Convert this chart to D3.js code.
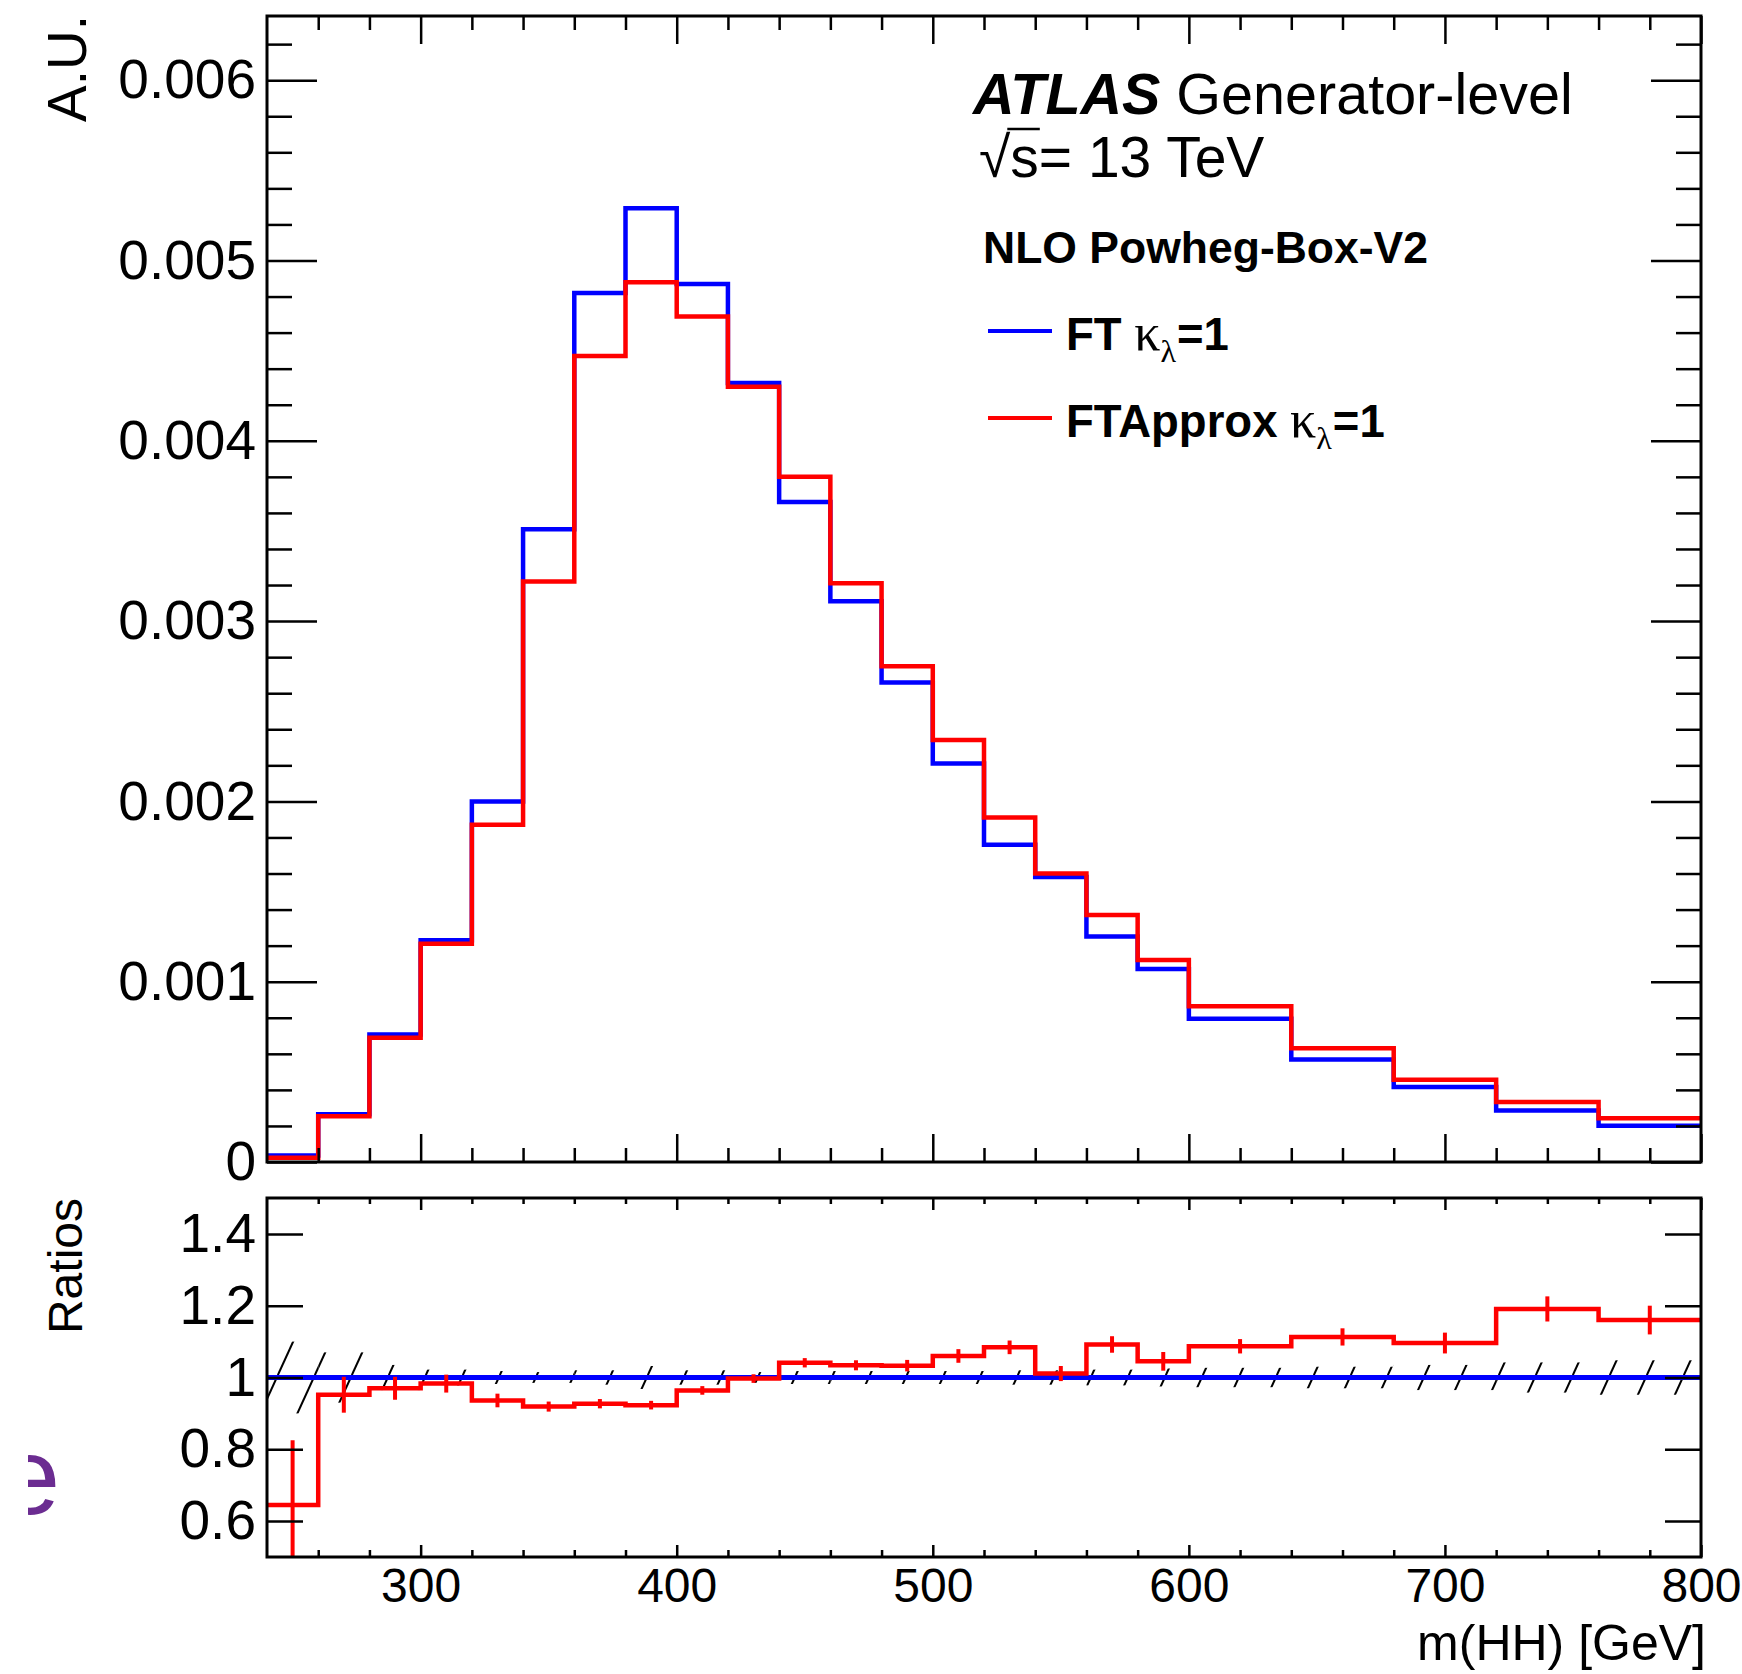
<!DOCTYPE html>
<html>
<head>
<meta charset="utf-8">
<script src="https://cdn.jsdelivr.net/npm/d3@7"></script>
<style>
  body { margin: 0; background: #fff; }
  svg { display: block; }
</style>
</head>
<body>
<div class="chart"></div>
<script>
const width = 1742
const height = 1674

// bin edges in m(HH) [GeV]
const binEdges = [240, 260, 280, 300, 320, 340, 360, 380, 400, 420, 440, 460, 480, 500,
                  520, 540, 560, 580, 600, 640, 680, 720, 760, 800]

// normalised distributions (A.U.)
const ftValues = [0.000036, 0.000265, 0.000707, 0.00123, 0.00200, 0.00351, 0.00482, 0.00529,
                  0.00487, 0.00432, 0.00366, 0.00311, 0.00266, 0.00221, 0.00176, 0.00158,
                  0.00125, 0.00107, 0.000795, 0.000569, 0.000416, 0.000285, 0.000201]
const ftApproxValues = [0.000023, 0.000254, 0.000689, 0.00121, 0.00187, 0.00322, 0.00447, 0.00488,
                        0.00469, 0.00430, 0.00380, 0.00321, 0.00275, 0.00234, 0.00191, 0.00160,
                        0.00137, 0.00112, 0.000864, 0.000631, 0.000456, 0.000333, 0.000242]

// ratio FTApprox / FT with its errors, and the FT uncertainty band (hatched)
const ratioValues = [0.645, 0.952, 0.970, 0.983, 0.936, 0.919, 0.927, 0.923, 0.964, 0.997, 1.041,
                     1.034, 1.033, 1.060, 1.084, 1.011, 1.092, 1.045, 1.087, 1.113, 1.096, 1.191, 1.160]
const ratioErrors = [0.18, 0.05, 0.032, 0.025, 0.019, 0.014, 0.013, 0.012, 0.012, 0.012, 0.013,
                     0.014, 0.016, 0.019, 0.019, 0.021, 0.023, 0.026, 0.020, 0.024, 0.029, 0.035, 0.040]
const ftBandErrors = [0.10, 0.07, 0.035, 0.022, 0.018, 0.015, 0.02, 0.032, 0.02, 0.015, 0.018,
                      0.018, 0.018, 0.018, 0.02, 0.02, 0.022, 0.025, 0.027, 0.03, 0.035, 0.042, 0.048]

// ticks
const xTicks = [300, 400, 500, 600, 700, 800]
const xTickLabels = ["300", "400", "500", "600", "700", "800"]
const yTicksTop = [0, 0.001, 0.002, 0.003, 0.004, 0.005, 0.006]
const yTickLabelsTop = ["0", "0.001", "0.002", "0.003", "0.004", "0.005", "0.006"]
const yTicksRatio = [0.6, 0.8, 1, 1.2, 1.4]
const yTickLabelsRatio = ["0.6", "0.8", "1", "1.2", "1.4"]

const FONT = "'Liberation Sans', Arial, Helvetica, sans-serif"
const SERIF = "'Liberation Serif', 'Times New Roman', serif"
const BLUE = "#0000ff"
const RED = "#ff0000"

const frame = { left: 267, right: 1701 }
const topPanel = { top: 16, bottom: 1162 }
const ratioPanel = { top: 1198, bottom: 1557 }

const svg = d3.select(".chart")
    .append("svg")
    .attr("width", width)
    .attr("height", height)
    .style("font-family", FONT)

const x = d3.scaleLinear().domain([240, 800]).range([frame.left, frame.right])
const y = d3.scaleLinear().domain([0, 0.006356]).range([topPanel.bottom, topPanel.top])
const yR = d3.scaleLinear().domain([0.5, 1.5]).range([ratioPanel.bottom, ratioPanel.top])

const bins = ftValues.map((v, i) => ({
    lo: binEdges[i], hi: binEdges[i + 1], ft: v, approx: ftApproxValues[i],
    ratio: ratioValues[i], rErr: ratioErrors[i], band: ftBandErrors[i], one: 1
}))

const steps = key => bins.flatMap(b => [[b.lo, b[key]], [b.hi, b[key]]])

// defs: clips + hatch
const defs = svg.append("defs")
defs.append("clipPath").attr("id", "clipTop")
    .append("rect")
    .attr("x", frame.left).attr("y", topPanel.top)
    .attr("width", frame.right - frame.left).attr("height", topPanel.bottom - topPanel.top)
defs.append("clipPath").attr("id", "clipRatio")
    .append("rect")
    .attr("x", frame.left).attr("y", ratioPanel.top)
    .attr("width", frame.right - frame.left).attr("height", ratioPanel.bottom - ratioPanel.top)
defs.append("clipPath").attr("id", "clipLogo")
    .append("rect").attr("x", 28).attr("y", 1400).attr("width", 100).attr("height", 160)

const hw = 37, hh = 81
const hatch = defs.append("pattern")
    .attr("id", "hatch")
    .attr("patternUnits", "userSpaceOnUse")
    .attr("x", frame.left + 10)
    .attr("width", hw).attr("height", hh)
hatch.append("line")
    .attr("x1", 0).attr("y1", hh).attr("x2", hw).attr("y2", 0)
    .attr("stroke", "#000").attr("stroke-width", 2)

// ---------- top panel ----------
const line = d3.line()
const gTop = svg.append("g").attr("clip-path", "url(#clipTop)")

gTop.append("path")
    .attr("d", line(steps("ft").map(d => [x(d[0]), y(d[1])])))
    .attr("fill", "none").attr("stroke", BLUE).attr("stroke-width", 4.5)

gTop.append("path")
    .attr("d", line(steps("approx").map(d => [x(d[0]), y(d[1])])))
    .attr("fill", "none").attr("stroke", RED).attr("stroke-width", 4.5)

// ---------- ratio panel ----------
const gR = svg.append("g").attr("clip-path", "url(#clipRatio)")

gR.selectAll("rect.band")
    .data(bins)
    .enter().append("rect")
        .attr("class", "band")
        .attr("x", d => x(d.lo))
        .attr("width", d => x(d.hi) - x(d.lo))
        .attr("y", d => yR(1 + d.band))
        .attr("height", d => yR(1 - d.band) - yR(1 + d.band))
        .attr("fill", "url(#hatch)")

gR.append("path")
    .attr("d", line(steps("one").map(d => [x(d[0]), yR(d[1])])))
    .attr("fill", "none").attr("stroke", BLUE).attr("stroke-width", 5)

gR.append("path")
    .attr("d", line(steps("ratio").map(d => [x(d[0]), yR(d[1])])))
    .attr("fill", "none").attr("stroke", RED).attr("stroke-width", 4.5)

gR.selectAll("line.err")
    .data(bins)
    .enter().append("line")
        .attr("class", "err")
        .attr("x1", d => x((d.lo + d.hi) / 2))
        .attr("x2", d => x((d.lo + d.hi) / 2))
        .attr("y1", d => yR(d.ratio - d.rErr))
        .attr("y2", d => yR(d.ratio + d.rErr))
        .attr("stroke", RED).attr("stroke-width", 4)

// ---------- axes ----------
function drawAxis(axis, tx, ty, fontSize) {
    const g = svg.append("g")
        .attr("transform", `translate(${tx}, ${ty})`)
        .call(axis)
    g.select(".domain").remove()
    g.attr("font-family", FONT).attr("font-size", fontSize || 10)
    g.selectAll(".tick line").attr("stroke", "#000").attr("stroke-width", 2.5)
    g.selectAll(".tick text").attr("fill", "#000")
    return g
}

const xMinor = d3.range(260, 800, 20).filter(v => v % 100 !== 0)
const yMinorTop = d3.range(0, 0.0064, 0.0002).filter(v => Math.abs(v * 1000 - Math.round(v * 1000)) > 1e-6)

// top panel y
drawAxis(d3.axisLeft(y).tickValues(yTicksTop).tickSizeInner(-50).tickSizeOuter(0).tickPadding(11)
    .tickFormat((d, i) => yTickLabelsTop[i]), frame.left, 0, 55)
drawAxis(d3.axisLeft(y).tickValues(yMinorTop).tickSizeInner(-25).tickSizeOuter(0).tickFormat(""),
    frame.left, 0)
drawAxis(d3.axisRight(y).tickValues(yTicksTop).tickSizeInner(-50).tickSizeOuter(0).tickFormat(""),
    frame.right, 0)
drawAxis(d3.axisRight(y).tickValues(yMinorTop).tickSizeInner(-25).tickSizeOuter(0).tickFormat(""),
    frame.right, 0)

// top panel x
drawAxis(d3.axisBottom(x).tickValues(xTicks).tickSizeInner(-28).tickSizeOuter(0).tickFormat(""),
    0, topPanel.bottom)
drawAxis(d3.axisBottom(x).tickValues(xMinor).tickSizeInner(-14).tickSizeOuter(0).tickFormat(""),
    0, topPanel.bottom)
drawAxis(d3.axisTop(x).tickValues(xTicks).tickSizeInner(-28).tickSizeOuter(0).tickFormat(""),
    0, topPanel.top)
drawAxis(d3.axisTop(x).tickValues(xMinor).tickSizeInner(-14).tickSizeOuter(0).tickFormat(""),
    0, topPanel.top)

// ratio panel y
drawAxis(d3.axisLeft(yR).tickValues(yTicksRatio).tickSizeInner(-36).tickSizeOuter(0).tickPadding(11)
    .tickFormat((d, i) => yTickLabelsRatio[i]), frame.left, 0, 55)
drawAxis(d3.axisRight(yR).tickValues(yTicksRatio).tickSizeInner(-36).tickSizeOuter(0).tickFormat(""),
    frame.right, 0)

// ratio panel x
drawAxis(d3.axisBottom(x).tickValues(xTicks).tickSizeInner(-12).tickSizeOuter(0).tickPadding(11)
    .tickFormat((d, i) => xTickLabels[i]), 0, ratioPanel.bottom, 48)
drawAxis(d3.axisBottom(x).tickValues(xMinor).tickSizeInner(-7).tickSizeOuter(0).tickFormat(""),
    0, ratioPanel.bottom)
drawAxis(d3.axisTop(x).tickValues(xTicks).tickSizeInner(-12).tickSizeOuter(0).tickFormat(""),
    0, ratioPanel.top)
drawAxis(d3.axisTop(x).tickValues(xMinor).tickSizeInner(-6).tickSizeOuter(0).tickFormat(""),
    0, ratioPanel.top)

// frames
svg.append("rect")
    .attr("x", frame.left).attr("y", topPanel.top)
    .attr("width", frame.right - frame.left).attr("height", topPanel.bottom - topPanel.top)
    .attr("fill", "none").attr("stroke", "#000").attr("stroke-width", 3)
svg.append("rect")
    .attr("x", frame.left).attr("y", ratioPanel.top)
    .attr("width", frame.right - frame.left).attr("height", ratioPanel.bottom - ratioPanel.top)
    .attr("fill", "none").attr("stroke", "#000").attr("stroke-width", 3)

// axis titles
svg.append("text")
    .attr("transform", "translate(86, 15) rotate(-90)")
    .attr("text-anchor", "end")
    .attr("font-size", 55)
    .text("A.U.")
svg.append("text")
    .attr("transform", `translate(82, ${ratioPanel.top}) rotate(-90)`)
    .attr("text-anchor", "end")
    .attr("font-size", 48)
    .text("Ratios")
svg.append("text")
    .attr("x", 1706).attr("y", 1660)
    .attr("text-anchor", "end")
    .attr("font-size", 50)
    .text("m(HH) [GeV]")

// ATLAS label
const atlas = svg.append("text").attr("x", 973).attr("y", 114).attr("font-size", 57.5)
atlas.append("tspan").attr("font-weight", "bold").attr("font-style", "italic").text("ATLAS")
atlas.append("tspan").text(" Generator-level")

const sqrtS = svg.append("text").attr("x", 979).attr("y", 177).attr("font-size", 57)
sqrtS.append("tspan").text("\u221A")
sqrtS.append("tspan").text("s= 13 TeV")
const radW = sqrtS.node().getSubStringLength(0, 1)
const sW = sqrtS.node().getSubStringLength(1, 1)
svg.append("line")
    .attr("x1", 979 + radW - 3).attr("x2", 979 + radW + sW + 1)
    .attr("y1", 129).attr("y2", 129)
    .attr("stroke", "#000").attr("stroke-width", 2.5)

svg.append("text")
    .attr("x", 983).attr("y", 263)
    .attr("font-size", 44.5).attr("font-weight", "bold")
    .text("NLO Powheg-Box-V2")

// legend
const legend = [
    { name: "FT ", color: BLUE, y: 331 },
    { name: "FTApprox ", color: RED, y: 418 }
]
legend.forEach(l => {
    svg.append("line")
        .attr("x1", 988).attr("x2", 1052)
        .attr("y1", l.y).attr("y2", l.y)
        .attr("stroke", l.color).attr("stroke-width", 4)
    const t = svg.append("text")
        .attr("x", 1066).attr("y", l.y + 19)
        .attr("font-size", 45.5).attr("font-weight", "bold")
    t.append("tspan").text(l.name)
    t.append("tspan").attr("font-family", SERIF).attr("font-weight", "normal")
        .attr("font-size", 52).text("\u03BA")
    t.append("tspan").attr("font-family", SERIF).attr("font-weight", "normal")
        .attr("font-size", 32).attr("dy", 12).text("\u03BB")
    t.append("tspan").attr("dy", -12).attr("dx", 1).text("=1")
})

// stray purple glyph at the left edge (cropped)
svg.append("text")
    .attr("x", -1).attr("y", 1514)
    .attr("font-size", 110)
    .attr("fill", "#6b2c91")
    .attr("clip-path", "url(#clipLogo)")
    .text("e")
</script>
</body>
</html>
